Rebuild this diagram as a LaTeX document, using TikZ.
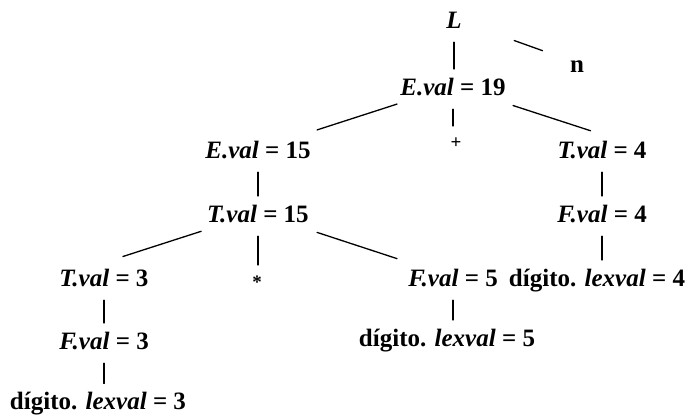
\documentclass[tikz,border=0pt]{standalone}
\usepackage{fontspec}
\setmainfont{Liberation Serif}
\usetikzlibrary{calc}
\begin{document}
\begin{tikzpicture}[x=1pt, y=-1pt, line cap=round, line join=round]
	\tikzset{
		every node/.style={inner sep=0pt, text height=18pt, text depth=0pt, font=\fontsize{25}{29}\selectfont\bfseries},
		sym/.style={text height=, text depth=, font=\fontsize{19}{21}\selectfont\bfseries}, % + y * mas pequenos
		edge/.style={line width=1.3pt},
		vedge/.style={edge, shorten <=14pt, shorten >=17pt}
	}
	\useasboundingbox (0,0) rectangle (696,415);
	% nodos del arbol
	\node (l) at (454,19) {\textit{L}};
	\node (n) at (577,63) {n};
	\node (e19) at (453,86) {\textit{E.val} = 19};
	\node[sym] (plus) at (456,143) {+};
	\node (e15) at (258,149) {\textit{E.val} = 15};
	\node (t4) at (602,149) {\textit{T.val} = 4};
	\node (t15) at (258,213) {\textit{T.val} = 15};
	\node (f4) at (602,213) {\textit{F.val} = 4};
	\node (t3) at (104,277) {\textit{T.val} = 3};
	\node[sym] (star) at (257,282) {*};
	\node (f5) at (453,277) {\textit{F.val} = 5};
	\node (d4) at (597,277) {dígito. \textit{lexval} = 4};
	\node (f3) at (104,340) {\textit{F.val} = 3};
	\node (d5) at (447,337) {dígito. \textit{lexval} = 5};
	\node (d3) at (98,400.5) {dígito. \textit{lexval} = 3};
	% aristas verticales
	\foreach \a/\b in {l/e19, e19/plus, e15/t15, t4/f4, f4/d4, t15/star, t3/f3, f3/d3, f5/d5}
		\draw[vedge] (\a) -- (\a |- \b);
	% aristas inclinadas
	\foreach \a/\b/\s/\e in {l/n/0.49/0.72, e19/e15/0.287/0.697, e19/t4.east/0.31/0.71, t15/t3.west/0.286/0.68, t15/f5/0.303/0.713}
		\draw[edge] ($(\a)!\s!(\b)$) -- ($(\a)!\e!(\b)$);
\end{tikzpicture}
\end{document}
